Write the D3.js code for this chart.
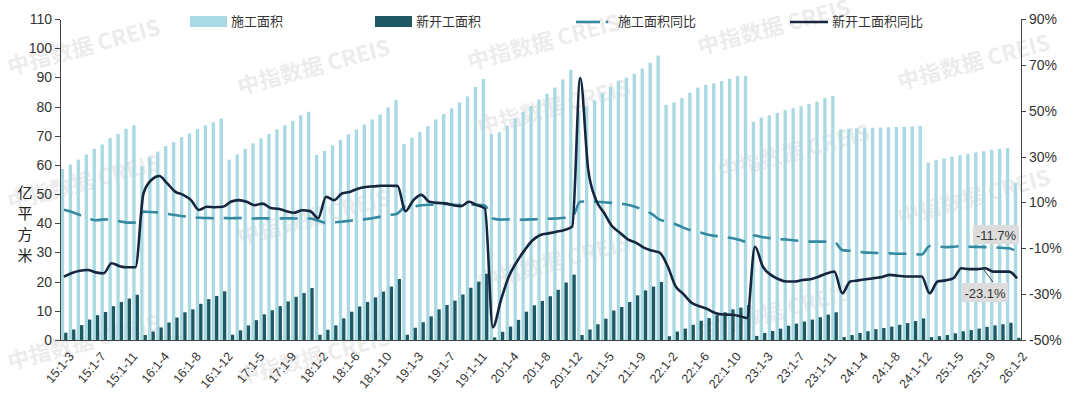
<!DOCTYPE html>
<html>
<head>
<meta charset="utf-8">
<title>施工面积与新开工面积</title>
<style>
  body { margin: 0; background: #fff; font-family: "Liberation Sans", "Noto Sans CJK SC", sans-serif; }
  .axis path, .axis line { stroke: #444; shape-rendering: crispEdges; }
  .axis text { fill: #333; font-size: 14px; }
  .xaxis text { font-size: 12.5px; }
  .wm { fill: #000; opacity: 0.07; font-size: 22px; font-weight: bold; font-family: "Noto Sans CJK SC", sans-serif; }
</style>
</head>
<body>
<svg id="chart" width="1080" height="414"></svg>
<script src="https://cdn.jsdelivr.net/npm/d3@7"></script>
<script>
// year buckets: 2015 starts at 1-3, every other year at 1-2, 2026 only 1-2
var years = [15, 16, 17, 18, 19, 20, 21, 22, 23, 24, 25, 26];
var periods = ["1-2","1-3","1-4","1-5","1-6","1-7","1-8","1-9","1-10","1-11","1-12"];

// 施工面积 (亿平方米)
var construction = [
  58.6,60.1,61.8,63.6,65.5,67.0,69.2,70.6,72.4,73.6,
  59.5,62.6,64.6,66.4,67.8,69.5,70.8,72.3,73.5,74.6,75.9,
  61.8,63.6,65.5,67.4,69.1,70.6,72.2,73.6,75.1,77.0,78.2,
  63.4,64.8,66.7,68.6,70.5,72.1,73.8,75.6,77.3,79.7,82.2,
  67.2,69.3,71.3,73.3,75.6,77.4,79.4,81.4,83.5,86.7,89.4,
  70.6,71.2,73.4,75.8,78.2,80.2,82.4,84.4,86.5,89.3,92.6,
  78.7,80.1,82.1,84.6,86.7,88.9,89.9,91.2,93.0,95.0,97.5,
  80.6,81.4,82.9,84.7,86.5,87.4,87.9,88.7,89.5,90.4,90.5,
  74.8,76.2,77.0,77.8,78.8,79.4,80.1,80.9,81.7,82.9,83.6,
  72.2,72.4,72.5,72.6,72.7,72.8,72.9,73.0,73.1,73.2,73.4,
  60.8,61.6,62.2,62.8,63.3,63.8,64.3,64.7,65.2,65.5,65.8,
  53.9
];
// 新开工面积 (亿平方米)
var newStart = [
  2.5,3.6,5.1,7.0,8.5,9.6,11.6,13.0,14.2,15.5,
  1.7,2.9,4.3,6.0,7.7,9.5,10.5,12.4,14.0,15.1,16.7,
  1.8,3.3,5.0,6.8,8.8,10.2,11.6,13.2,14.8,16.1,17.8,
  1.8,3.5,5.0,7.4,9.7,11.5,13.0,14.6,16.6,18.3,20.9,
  1.8,4.2,6.1,8.1,10.5,12.0,13.5,15.6,17.9,20.0,22.7,
  0.9,2.8,4.6,6.9,9.7,11.9,13.4,15.0,17.2,19.7,22.4,
  1.7,3.6,5.4,7.3,10.1,11.3,13.0,15.3,17.0,18.3,19.9,
  1.3,2.9,3.9,5.2,6.6,7.5,8.5,9.5,10.5,11.1,12.0,
  1.4,2.4,3.1,3.9,4.9,5.6,6.3,7.0,7.8,8.7,9.5,
  1.0,1.7,2.4,3.0,3.7,4.1,4.6,5.2,5.8,6.5,7.4,
  0.97,1.3,1.7,2.3,3.0,3.4,3.9,4.5,5.0,5.4,5.9,
  0.74
];
// 施工面积同比 (%)
var constructionYoY = [
  6.8,5.8,4.5,3.2,2.2,2.6,2.5,1.8,1.2,1.3,
  6.0,5.8,5.5,5.0,4.5,4.0,3.6,3.3,3.2,3.1,3.2,
  3.1,3.2,3.0,3.0,3.1,3.0,3.0,3.1,3.0,3.0,3.0,
  2.0,1.1,1.3,1.6,2.0,2.4,2.7,3.2,3.9,4.5,5.2,
  8.2,8.2,8.8,9.0,9.0,9.3,9.0,8.9,9.0,9.0,8.7,
  3.0,2.5,2.6,2.4,2.5,2.6,2.7,2.9,3.0,3.3,3.7,
  10.3,10.4,10.3,10.1,9.8,9.5,9.0,8.0,6.8,5.0,2.5,
  1.5,0.5,-1.0,-2.2,-3.0,-4.0,-4.6,-5.0,-5.5,-6.3,-7.2,
  -4.4,-5.2,-5.6,-6.0,-6.2,-6.6,-6.8,-7.1,-7.1,-7.1,-7.2,
  -10.8,-11.1,-11.5,-11.9,-12.0,-12.1,-12.2,-12.4,-12.4,-12.6,-12.7,
  -9.0,-9.2,-9.5,-9.3,-9.1,-9.3,-9.4,-9.5,-9.6,-9.8,-10.0,
  -11.7
];
// 新开工面积同比 (%)
var newStartYoY = [
  -22.4,-20.8,-19.8,-19.5,-20.5,-20.9,-16.5,-17.8,-18.3,-18.3,
  13.7,19.8,21.5,18.3,14.7,13.3,11.0,6.7,8.1,7.9,8.1,
  10.3,11.0,10.3,8.8,9.5,7.6,7.2,6.2,5.5,6.6,6.2,
  3.1,12.5,11.0,13.9,14.6,16.0,16.7,17.0,17.3,17.3,17.2,
  6.2,11.0,13.3,10.3,9.8,9.6,8.8,8.4,10.3,8.8,7.3,
  -44.4,-32.8,-22.4,-16.0,-10.8,-6.5,-4.2,-3.5,-2.8,-2.0,-0.5,
  64.3,24.5,11.0,5.5,-0.3,-3.2,-6.1,-7.5,-9.7,-11.0,-11.9,
  -17.7,-26.5,-30.0,-33.7,-35.3,-36.5,-38.2,-38.9,-39.0,-39.5,-40.4,
  -9.3,-18.0,-21.6,-23.5,-24.5,-24.5,-23.8,-23.5,-22.4,-21.0,-20.2,
  -29.6,-24.5,-24.0,-23.5,-23.0,-22.5,-21.6,-22.0,-22.3,-22.3,-22.3,
  -29.6,-24.5,-24.0,-23.0,-18.7,-19.1,-19.1,-18.7,-20.2,-20.2,-20.2,
  -23.1
];

var labels = [] ;
years.forEach(function(y){
    var ps = y === 15 ? periods.slice(1) : (y === 26 ? periods.slice(0,1) : periods) ;
    ps.forEach(function(p){ labels.push(y + ":" + p) ; }) ;
}) ;

var svg = d3.select("#chart") ;
var plotL = 60, plotR = 1021, plotT = 19, plotB = 340 ;

// watermarks behind everything
var wmPos = [[10,75],[240,95],[480,135],[700,55],[900,90],[10,210],[240,245],[480,290],[720,180],[900,225],[10,370],[470,70],[700,340],[240,385]] ;
svg.selectAll(".wm").data(wmPos).enter().append("text")
    .attr("class","wm")
    .attr("transform", function(d){ return "translate(" + d[0] + "," + d[1] + ") rotate(-15)" ; })
    .text("中指数据  CREIS") ;

var x = d3.scaleBand().domain(labels).range([plotL, plotR]) ;
var yL = d3.scaleLinear().domain([0,110]).range([plotB, plotT]) ;
var yR = d3.scaleLinear().domain([-50,90]).range([plotB, plotT]) ;
var bw = x.bandwidth() ;

svg.append("g").selectAll("rect").data(construction).enter().append("rect")
    .attr("x", function(d,i){ return x(labels[i]) + 0.8 ; })
    .attr("width", bw * 0.42)
    .attr("y", function(d){ return yL(d) ; })
    .attr("height", function(d){ return plotB - yL(d) ; })
    .attr("fill", "#a9d9e2") ;

svg.append("g").selectAll("rect").data(newStart).enter().append("rect")
    .attr("x", function(d,i){ return x(labels[i]) + 0.8 + bw * 0.42 ; })
    .attr("width", bw * 0.42)
    .attr("y", function(d){ return yL(d) ; })
    .attr("height", function(d){ return plotB - yL(d) ; })
    .attr("fill", "#1d5863") ;

var line = function(arr){
    return d3.line()
        .x(function(d,i){ return x(labels[i]) + bw/2 ; })
        .y(function(d){ return yR(d) ; })
        .curve(d3.curveMonotoneX)(arr) ;
} ;
svg.append("path").attr("d", line(constructionYoY))
    .attr("fill","none").attr("stroke","#3589a0").attr("stroke-width",2.6)
    .attr("stroke-dasharray","18,10") ;
svg.append("path").attr("d", line(newStartYoY))
    .attr("fill","none").attr("stroke","#17263f").attr("stroke-width",2.6) ;

// axes
svg.append("g").attr("class","axis").attr("transform","translate(" + plotL + ",0)")
    .call(d3.axisLeft(yL).tickValues(d3.range(0,111,10)).tickSize(5).tickSizeOuter(0)) ;
svg.append("g").attr("class","axis").attr("transform","translate(" + plotR + ",0)")
    .call(d3.axisRight(yR).tickValues(d3.range(-50,91,20)).tickSize(5).tickSizeOuter(0)
          .tickFormat(function(d){ return d + "%" ; })) ;
var xa = svg.append("g").attr("class","axis xaxis").attr("transform","translate(0," + plotB + ")")
    .call(d3.axisBottom(x).tickValues(labels.filter(function(d,i){ return i % 4 === 0 ; })).tickSize(0).tickSizeOuter(0)) ;
xa.selectAll("text")
    .attr("text-anchor","end")
    .attr("transform","translate(5,12) rotate(-50)")
    .attr("dy","0.35em") ;

// y title
svg.append("g").selectAll("text").data(["亿","平","方","米"]).enter().append("text")
    .attr("x", 25).attr("y", function(d,i){ return 198 + i*21 ; })
    .attr("text-anchor","middle").attr("font-size",15).attr("fill","#222")
    .attr("font-family","Noto Sans CJK SC").text(function(d){ return d ; }) ;

// legend
var lg = svg.append("g").attr("font-family","Noto Sans CJK SC").attr("font-size",13).attr("fill","#333") ;
lg.append("rect").attr("x",190).attr("y",16).attr("width",37).attr("height",11).attr("fill","#a9d9e2") ;
lg.append("text").attr("x",231).attr("y",26).text("施工面积") ;
lg.append("rect").attr("x",375).attr("y",16).attr("width",37).attr("height",11).attr("fill","#1d5863") ;
lg.append("text").attr("x",416).attr("y",26).text("新开工面积") ;
lg.append("line").attr("x1",576).attr("x2",600).attr("y1",22).attr("y2",22).attr("stroke","#3589a0").attr("stroke-width",2.6) ;
lg.append("circle").attr("cx",607).attr("cy",22).attr("r",1.4).attr("fill","#3589a0") ;
lg.append("text").attr("x",618).attr("y",26).text("施工面积同比") ;
lg.append("line").attr("x1",790).attr("x2",828).attr("y1",22).attr("y2",22).attr("stroke","#17263f").attr("stroke-width",2.6) ;
lg.append("text").attr("x",832).attr("y",26).text("新开工面积同比") ;

// end labels
var last = labels.length - 1 ;
var lx = x(labels[last]) + bw/2 ;
svg.append("line").attr("x1", lx - 33).attr("y1", yR(-19.5)).attr("x2", lx - 24).attr("y2", 282)
    .attr("stroke","#444").attr("stroke-width",1) ;
[[constructionYoY[last], 973, 225], [newStartYoY[last], 962, 283]].forEach(function(a){
    svg.append("rect").attr("x",a[1]).attr("y",a[2]).attr("width",46).attr("height",19).attr("fill","#dcdcdc") ;
    svg.append("text").attr("x",a[1]+23).attr("y",a[2]+14.5).attr("text-anchor","middle")
        .attr("font-size",13).attr("fill","#333").text(a[0].toFixed(1) + "%") ;
}) ;
</script>
</body>
</html>
